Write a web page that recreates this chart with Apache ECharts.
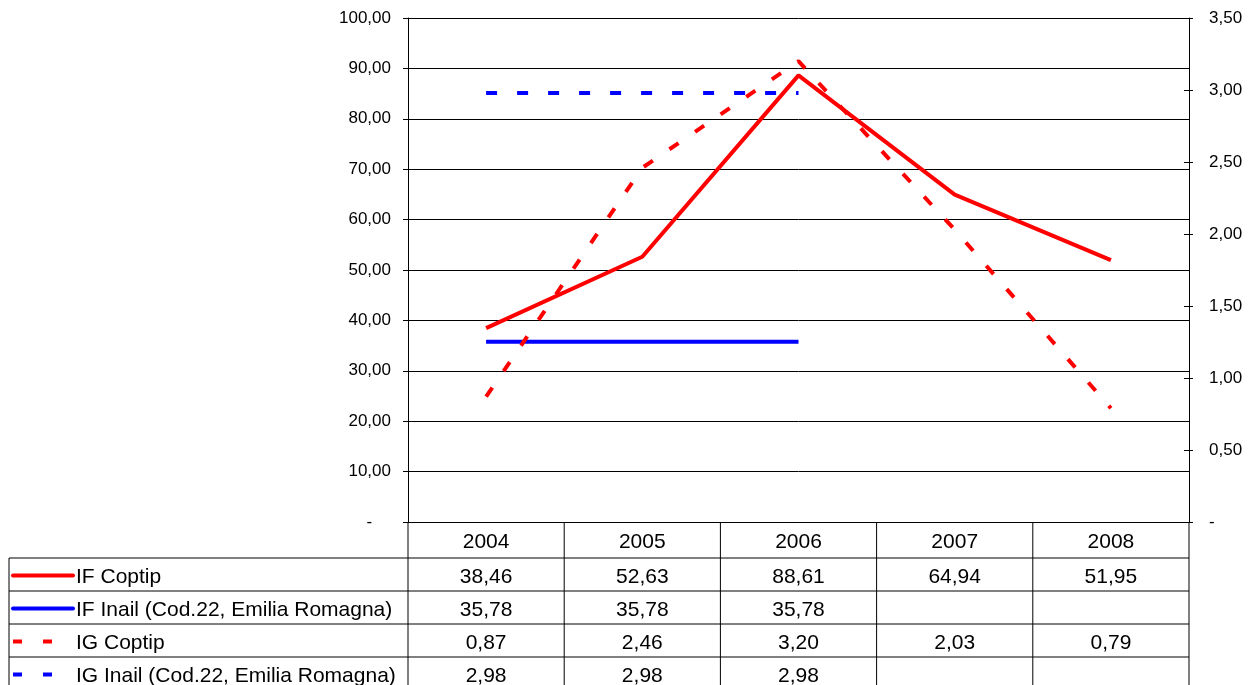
<!DOCTYPE html>
<html>
<head>
<meta charset="utf-8">
<script src="https://cdn.jsdelivr.net/npm/echarts@6/dist/echarts.min.js"></script>
<style>
  html, body { margin: 0; padding: 0; background: #fff; }
  #chart { width: 1252px; height: 685px; }
</style>
</head>
<body>
<div id="chart"></div>
<script>
// Years shown on the category axis and in the table header
const years = ['2004', '2005', '2006', '2007', '2008'];

// Frequency index (left axis)
const ifCoptip = [38.46, 52.63, 88.61, 64.94, 51.95];
const ifInail = [35.78, 35.78, 35.78, null, null];

// Severity index (right axis)
const igCoptip = [0.87, 2.46, 3.20, 2.03, 0.79];
const igInail = [2.98, 2.98, 2.98, null, null];

// Tick values for both value axes
const leftTicks = [0, 10, 20, 30, 40, 50, 60, 70, 80, 90, 100];
const rightTicks = [0, 0.5, 1, 1.5, 2, 2.5, 3, 3.5];

const seriesNames = [
  'IF Coptip',
  'IF Inail (Cod.22, Emilia Romagna)',
  'IG Coptip',
  'IG Inail (Cod.22, Emilia Romagna)'
];

const FONT = "'Liberation Sans', Arial, sans-serif";
const TABLE_FONT_SIZE = 21;
const RED = '#ff0000';
const BLUE = '#0000ff';
const DASH = [11, 20];

const fmt = v => v.toFixed(2).replace('.', ',');

const chart = echarts.init(document.getElementById('chart'));

const rows = [
  { name: seriesNames[0], data: ifCoptip, color: RED, dashed: false },
  { name: seriesNames[1], data: ifInail, color: BLUE, dashed: false },
  { name: seriesNames[2], data: igCoptip, color: RED, dashed: true },
  { name: seriesNames[3], data: igInail, color: BLUE, dashed: true }
];

const leftMax = leftTicks[leftTicks.length - 1];
const rightMax = rightTicks[rightTicks.length - 1];

chart.setOption({
  animation: false,
  backgroundColor: '#fff',
  grid: { left: 408, right: 63, top: 18, bottom: 163, containLabel: false },
  xAxis: {
    type: 'category',
    data: years,
    boundaryGap: true,
    axisLine: { lineStyle: { color: '#000', width: 1 } },
    axisTick: { show: false },
    axisLabel: { color: '#000', fontFamily: FONT, fontSize: TABLE_FONT_SIZE, margin: 10 },
    splitLine: { show: false }
  },
  yAxis: [
    {
      type: 'value',
      min: 0, max: leftMax, interval: leftTicks[1] - leftTicks[0],
      position: 'left',
      axisLine: { show: true, lineStyle: { color: '#000' } },
      axisTick: { show: true, inside: false, length: 5, lineStyle: { color: '#000' } },
      axisLabel: {
        color: '#000', fontFamily: FONT, fontSize: 17, margin: 17,
        formatter: v => v === 0 ? '-    ' : fmt(v)
      },
      splitLine: { show: true, lineStyle: { color: '#000', width: 1 } }
    },
    {
      type: 'value',
      min: 0, max: rightMax, interval: rightTicks[1] - rightTicks[0],
      position: 'right',
      axisLine: { show: true, lineStyle: { color: '#000' } },
      axisTick: { show: true, inside: false, length: 4, lineStyle: { color: '#000' } },
      axisLabel: {
        color: '#000', fontFamily: FONT, fontSize: 17, margin: 20,
        formatter: v => v === 0 ? '-' : fmt(v)
      },
      splitLine: { show: false }
    },
    {
      // inner half of the crossing ticks on the right axis
      type: 'value',
      min: 0, max: rightMax, interval: rightTicks[1] - rightTicks[0],
      position: 'right',
      axisLine: { show: false },
      axisTick: { show: true, inside: true, length: 5, lineStyle: { color: '#000' } },
      axisLabel: { show: false },
      splitLine: { show: false }
    }
  ],
  series: [
    {
      name: seriesNames[0], type: 'line', yAxisIndex: 0, data: ifCoptip,
      showSymbol: false, symbol: 'none',
      lineStyle: { color: RED, width: 4 }, z: 3
    },
    {
      name: seriesNames[1], type: 'line', yAxisIndex: 0, data: ifInail,
      showSymbol: false, symbol: 'none',
      lineStyle: { color: BLUE, width: 4 }, z: 3
    },
    {
      name: seriesNames[2], type: 'line', yAxisIndex: 1, data: igCoptip,
      showSymbol: false, symbol: 'none',
      lineStyle: { color: RED, width: 4, type: DASH, cap: 'butt' }, z: 4
    },
    {
      name: seriesNames[3], type: 'line', yAxisIndex: 1, data: igInail,
      showSymbol: false, symbol: 'none',
      lineStyle: { color: BLUE, width: 4, type: DASH, cap: 'butt' }, z: 4
    }
  ]
});

// Data table under the plot, aligned to the category bands
function drawTable() {
  const centers = years.map((_, i) => chart.convertToPixel({ xAxisIndex: 0 }, i));
  const band = centers[1] - centers[0];
  const plotBottom = chart.convertToPixel({ yAxisIndex: 0 }, 0);
  const headerH = 36;
  const rowH = 33;
  const tableLeft = 9;
  const firstRowTop = plotBottom + headerH;
  const colEdges = centers.map(c => c - band / 2).concat([centers[centers.length - 1] + band / 2]);
  const tableRight = colEdges[colEdges.length - 1];
  const tableBottom = firstRowTop + rowH * rows.length;
  const els = [];
  const lineStyle = { stroke: '#000', lineWidth: 1 };
  const font = TABLE_FONT_SIZE + 'px ' + FONT;

  // vertical lines
  colEdges.forEach(x => {
    els.push({ type: 'line', shape: { x1: x, y1: plotBottom, x2: x, y2: tableBottom }, style: lineStyle, silent: true });
  });
  els.push({ type: 'line', shape: { x1: tableLeft, y1: firstRowTop, x2: tableLeft, y2: tableBottom }, style: lineStyle, silent: true });

  // horizontal lines
  for (let r = 0; r <= rows.length; r++) {
    const y = firstRowTop + r * rowH;
    els.push({ type: 'line', shape: { x1: tableLeft, y1: y, x2: tableRight, y2: y }, style: lineStyle, silent: true });
  }

  rows.forEach((row, r) => {
    const cy = firstRowTop + r * rowH + rowH / 2 + 3;
    // legend key
    els.push({
      type: 'line',
      shape: { x1: tableLeft + 4, y1: cy - 2, x2: tableLeft + 64, y2: cy - 2 },
      style: {
        stroke: row.color, lineWidth: 4,
        lineDash: row.dashed ? [9, 21] : null,
        lineCap: row.dashed ? 'butt' : 'round'
      },
      silent: true
    });
    els.push({
      type: 'text', x: tableLeft + 67, y: cy,
      style: { text: row.name, fill: '#000', font: font, textAlign: 'left', textVerticalAlign: 'middle' },
      silent: true
    });
    // values
    row.data.forEach((v, i) => {
      if (v == null) return;
      els.push({
        type: 'text', x: centers[i], y: cy,
        style: { text: fmt(v), fill: '#000', font: font, textAlign: 'center', textVerticalAlign: 'middle' },
        silent: true
      });
    });
  });

  chart.setOption({ graphic: { elements: els } });
}

drawTable();
</script>
</body>
</html>
